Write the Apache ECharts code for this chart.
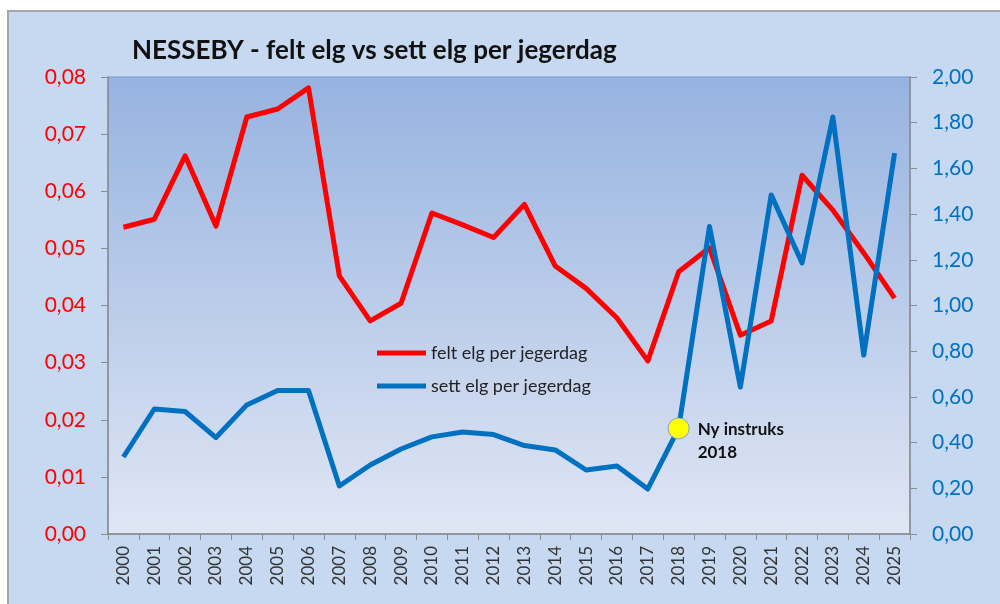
<!DOCTYPE html>
<html>
<head>
  <meta charset="UTF-8">
  <title>Nesseby elg</title>
  <script src="https://cdn.jsdelivr.net/npm/echarts@6/dist/echarts.min.js"></script>
  <style>
  html, body { margin: 0; padding: 0; background: #fff; }
  #chart { width: 1000px; height: 604px; }
  </style>
</head>
<body>
  <div id="chart"></div>
<script>
var years = ['2000', '2001', '2002', '2003', '2004', '2005', '2006', '2007', '2008', '2009',
  '2010', '2011', '2012', '2013', '2014', '2015', '2016', '2017', '2018', '2019',
  '2020', '2021', '2022', '2023', '2024', '2025'];

// felt elg per jegerdag (venstre akse)
var felt = [0.0537, 0.0551, 0.0662, 0.0539, 0.0730, 0.0744, 0.0781, 0.0452, 0.0373, 0.0404,
  0.0562, 0.0541, 0.0519, 0.0577, 0.0469, 0.0430, 0.0378, 0.0303, 0.0459, 0.0501,
  0.0348, 0.0373, 0.0628, 0.0567, 0.0492, 0.0413];

// sett elg per jegerdag (høyre akse)
var sett = [0.337, 0.547, 0.536, 0.422, 0.565, 0.628, 0.628, 0.210, 0.302, 0.372,
  0.425, 0.446, 0.435, 0.387, 0.368, 0.280, 0.298, 0.197, 0.462, 1.346,
  0.643, 1.484, 1.186, 1.825, 0.783, 1.667];

var annotYear = '2018';
var annotText = 'Ny instruks\n2018';

var font = 'Lato';
var chart = echarts.init(document.getElementById('chart'));

var comma = function(digits) {
  return function(v) { return v.toFixed(digits).replace('.', ','); };
};

var option = {
  animation: false,
  textStyle: { fontFamily: font },
  graphic: [{
    type: 'rect',
    z: -10,
    shape: { x: 8, y: 11, width: 1000, height: 600 },
    style: { fill: '#c6d9f0', stroke: '#a6a6a6', lineWidth: 2 }
  }],
  title: {
    text: 'NESSEBY - felt elg vs sett elg per jegerdag',
    left: 127,
    top: 33,
    textStyle: { fontFamily: font, fontSize: 26, fontWeight: 'bold', color: '#111' }
  },
  legend: {
    orient: 'vertical',
    left: 372,
    top: 339,
    itemGap: 15,
    itemWidth: 49,
    itemHeight: 5,
    icon: 'rect',
    textStyle: { fontFamily: font, fontSize: 18, color: '#222' },
    data: ['felt elg per jegerdag', 'sett elg per jegerdag']
  },
  grid: {
    left: 108, right: 90, top: 77, bottom: 70,
    show: true,
    borderColor: '#7497cb',
    borderWidth: 1,
    backgroundColor: new echarts.graphic.LinearGradient(0, 0, 0, 1, [
      { offset: 0, color: '#96b3e0' },
      { offset: 1, color: '#e0e6f4' }
    ])
  },
  xAxis: {
    type: 'category',
    data: years,
    boundaryGap: true,
    axisLine: { lineStyle: { color: '#8c8c8c', width: 1.5 } },
    axisTick: { show: true, interval: 0, length: 6, lineStyle: { color: '#8c8c8c' } },
    axisLabel: { interval: 0, rotate: 90, fontSize: 17, color: '#333', margin: 12 },
    splitLine: { show: false }
  },
  yAxis: [{
    type: 'value',
    min: 0, max: 0.08, interval: 0.01,
    position: 'left',
    axisLine: { show: true, lineStyle: { color: '#8c8c8c', width: 1.5 } },
    axisTick: { show: true, length: 7, lineStyle: { color: '#8c8c8c' } },
    axisLabel: { formatter: comma(2), fontSize: 21, color: '#ff0000', margin: 22 },
    splitLine: { show: false }
  }, {
    type: 'value',
    min: 0, max: 2, interval: 0.2,
    position: 'right',
    axisLine: { show: true, lineStyle: { color: '#8c8c8c', width: 1.5 } },
    axisTick: { show: true, length: 7, lineStyle: { color: '#8c8c8c' } },
    axisLabel: { formatter: comma(2), fontSize: 21, color: '#0070c0', margin: 22 },
    splitLine: { show: false }
  }],
  series: [{
    name: 'felt elg per jegerdag',
    type: 'line',
    yAxisIndex: 0,
    data: felt,
    symbol: 'none',
    lineStyle: { color: '#ff0000', width: 5, join: 'round' },
    itemStyle: { color: '#ff0000' },
    z: 3
  }, {
    name: 'sett elg per jegerdag',
    type: 'line',
    yAxisIndex: 1,
    data: sett,
    symbol: 'none',
    lineStyle: { color: '#0070c0', width: 5, join: 'round' },
    itemStyle: { color: '#0070c0' },
    z: 4,
    markPoint: {
      symbol: 'circle',
      symbolSize: 21,
      itemStyle: { color: '#ffff00', borderColor: '#8aa0b8', borderWidth: 1 },
      label: {
        show: true,
        position: 'right',
        distance: 8,
        offset: [0, 13],
        formatter: annotText,
        fontFamily: font,
        fontSize: 17,
        fontWeight: 'bold',
        color: '#111',
        lineHeight: 23
      },
      data: [{ coord: [annotYear, sett[years.indexOf(annotYear)]] }]
    }
  }]
};

chart.setOption(option);
</script>
</body>
</html>
